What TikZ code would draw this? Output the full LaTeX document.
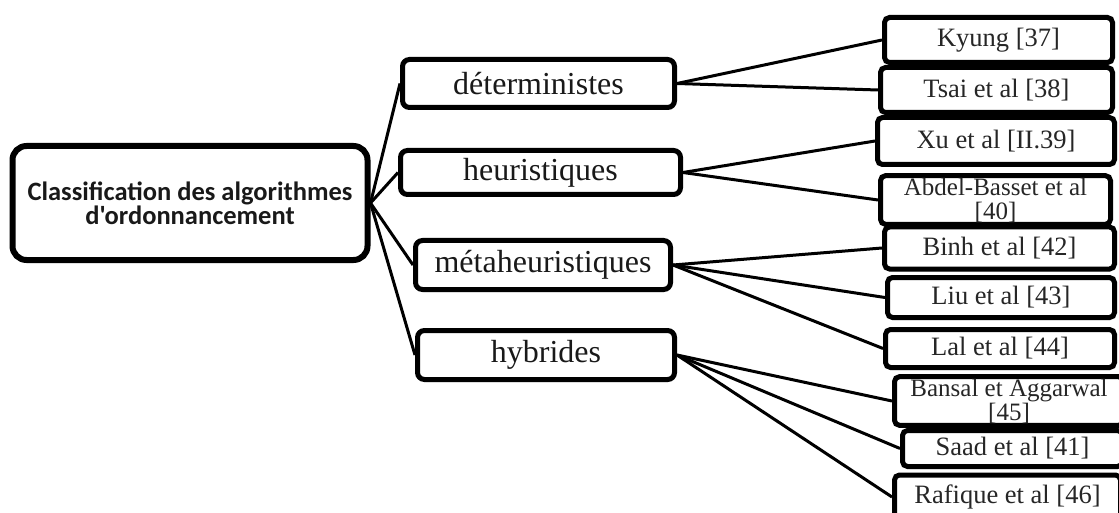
\documentclass[tikz,border=0pt]{standalone}
\usepackage{fontspec}
\setmainfont{Liberation Serif}
\newfontfamily\titrefont{Carlito}
\usepackage{tikz}
\usetikzlibrary{positioning,backgrounds,shadows}
\tikzset{
  % boîtes
  ombre/.style={drop shadow={opacity=0.25,shadow xshift=1.5pt,shadow yshift=-2.5pt}},
  racine/.style={draw=black,fill=white,line width=6pt,rounded corners=14pt,
             inner sep=0pt,align=center,text=black!90,ombre,
             font=\titrefont\bfseries\fontsize{26.5}{21}\selectfont},
  classe/.style={draw=black,fill=white,line width=5pt,rounded corners=7pt,
             inner sep=0pt,text=black!90,ombre,font=\fontsize{32}{36}\selectfont},
  refbox/.style={draw=black,fill=white,line width=5pt,rounded corners=5pt,
             inner sep=0pt,align=center,text=black!85,ombre,
             font=\fontsize{26.5}{30}\selectfont},
  refdeux/.style={refbox,inner ysep=2pt,font=\fontsize{25}{24}\selectfont},
  % liens
  lien/.style={draw=black,line width=3pt},
}

\begin{document}
\begin{tikzpicture}[x=1pt,y=-1pt]
  \useasboundingbox (0,0) rectangle (1119,513);
  \node[racine,minimum width=355pt,minimum height=114pt] (algo) at (190,203)
    {Classification des algorithmes\\d'ordonnancement};
  \node[classe,minimum width=272pt,minimum height=48pt] (det) at (538.5,83.5) {déterministes};
  \node[classe,minimum width=280pt,minimum height=44pt] (heu) at (540.5,172.5) {heuristiques};
  \node[classe,minimum width=255pt,minimum height=49pt] (meta) at (543,265) {métaheuristiques};
  \node[classe,minimum width=257pt,minimum height=49pt] (hyb) at (546,355) {hybrides};
  \node[refbox,minimum width=228pt,minimum height=45pt] (kyung) at (998.5,40) {Kyung [37]};
  \node[refbox,minimum width=232pt,minimum height=45pt] (tsai) at (996.5,90) {Tsai et al [38]};
  \node[refbox,minimum width=237pt,minimum height=47pt] (xu) at (996,141) {Xu et al [II.39]};
  \node[refdeux,minimum width=230pt,minimum height=43pt] (abdel) at (995.5,200) {Abdel-Basset et al\\{}[40]};
  \node[refbox,minimum width=230pt,minimum height=42pt] (binh) at (999.5,248) {Binh et al [42]};
  \node[refbox,minimum width=227pt,minimum height=40pt] (liu) at (1001,297.5) {Liu et al [43]};
  \node[refbox,minimum width=229pt,minimum height=38pt] (lal) at (1000,348.5) {Lal et al [44]};
  \node[refdeux,minimum width=229pt,minimum height=43pt] (bansal) at (1009,401) {Bansal et Aggarwal\\{}[45]};
  \node[refbox,minimum width=220pt,minimum height=36pt] (saad) at (1012.5,448.5) {Saad et al [41]};
  \node[refbox,minimum width=226pt,minimum height=44pt] (rafique) at (1007.5,497) {Rafique et al [46]};
  \begin{scope}[on background layer]
  \draw[lien] (algo.east) -- (det.west);
  \draw[lien] (algo.east) -- (heu.west);
  \draw[lien] (algo.east) -- (meta.west);
  \draw[lien] (algo.east) -- (hyb.west);
  \draw[lien] (det.east) -- (kyung.west);
  \draw[lien] (det.east) -- (tsai.west);
  \draw[lien] (heu.east) -- (xu.west);
  \draw[lien] (heu.east) -- (abdel.west);
  \draw[lien] (meta.east) -- (binh.west);
  \draw[lien] (meta.east) -- (liu.west);
  \draw[lien] (meta.east) -- (lal.west);
  \draw[lien] (hyb.east) -- (bansal.west);
  \draw[lien] (hyb.east) -- (saad.west);
  \draw[lien] (hyb.east) -- (rafique.west);
  \end{scope}
\end{tikzpicture}
\end{document}
